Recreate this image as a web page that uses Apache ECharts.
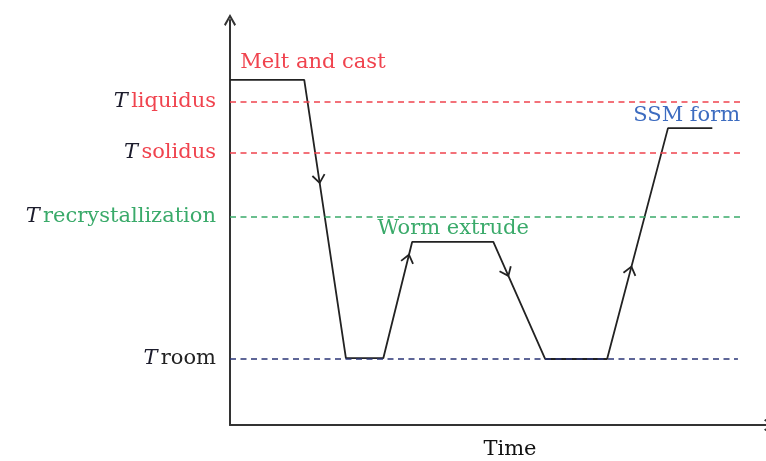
<!DOCTYPE html>
<html><head><meta charset="utf-8">
<script src="https://cdn.jsdelivr.net/npm/echarts@6/dist/echarts.min.js"></script>
<style>html,body{margin:0;padding:0;background:#fff}#c{width:766px;height:461px}</style>
</head><body><div id="c"></div>
<script>
// Process path (time, temperature) in arbitrary units
const pathX = [0, 13.9, 21.7, 28.7, 34.1, 49.3, 59, 70.6, 82, 90.3];
const pathY = [85.2, 85.2, 16.5, 16.5, 45.2, 45.2, 16.3, 16.3, 73.3, 73.3];
// Direction arrows: segment start index and fraction along segment
const arrowSeg = [1, 3, 5, 7];
const arrowFrac = [0.37, 0.89, 0.29, 0.40];
// Reference temperature levels
const levelNames = ['liquidus', 'solidus', 'recrystallization', 'room'];
const levelValues = [79.8, 67.2, 51.4, 16.3];
const levelEnds = [95.7, 95.7, 95.7, 95.1];
const levelColors = ['#f0434e', '#f0434e', '#3aaa6a', '#2a3576'];
const levelTextColors = ['#f0434e', '#f0434e', '#3aaa6a', '#222222'];
// Stage annotations
const stageNames = ['Melt and cast', 'Worm extrude', 'SSM form'];
const stageX = [1.9, 27.6, 75.5];
const stageY = [89.6, 48.6, 76.5];
const stageColors = ['#f0434e', '#3aaa6a', '#3d6cc0'];

const FONT = 'DejaVu Serif';
const FS = 21;
const chev = 'path://M0,8.8 L5,0 L10,8.8 L8.7,10 L5,3.3 L1.3,10 Z';

const pathData = pathX.map((x, i) => [x, pathY[i]]);
const arrowData = arrowSeg.map((s, i) => [pathX[s], pathY[s], pathX[s + 1], pathY[s + 1], arrowFrac[i]]);

const markData = levelNames.map((n, i) => [
  {coord: [0, levelValues[i]], lineStyle: {color: levelColors[i]},
   label: {formatter: '{t|T} {n|' + n + '}', rich: {
     t: {fontFamily: FONT, fontSize: FS, fontStyle: 'italic', color: '#1c1c2c'},
     n: {fontFamily: FONT, fontSize: FS, color: levelTextColors[i]}}}},
  {coord: [levelEnds[i], levelValues[i]]}
]);

const chart = echarts.init(document.getElementById('c'), null, {renderer: 'canvas'});
chart.setOption({
  animation: false,
  backgroundColor: '#ffffff',
  grid: {left: 230, right: -4, top: 20, bottom: 36, containLabel: false, outerBoundsMode: 'none'},
  xAxis: {
    type: 'value', min: 0, max: 101.1,
    name: 'Time', nameLocation: 'middle', nameGap: 14,
    nameTextStyle: {fontFamily: FONT, fontSize: FS, color: '#111', padding: [0, 0, 0, 20]},
    axisLine: {show: true, lineStyle: {color: '#333', width: 2}, symbol: ['none', chev], symbolSize: [18, 12]},
    axisTick: {show: false}, axisLabel: {show: false}, splitLine: {show: false}
  },
  yAxis: {
    type: 'value', min: 0, max: 100,
    axisLine: {show: true, lineStyle: {color: '#333', width: 2}, symbol: ['none', chev], symbolSize: [16, 12]},
    axisTick: {show: false}, axisLabel: {show: false}, splitLine: {show: false}
  },
  series: [
    {
      type: 'line', data: pathData, symbol: 'none',
      lineStyle: {color: '#222222', width: 1.8},
      markLine: {
        silent: true, symbol: 'none',
        lineStyle: {type: [6, 4.5], width: 1.6},
        label: {show: true, position: 'start', distance: 14},
        data: markData
      },
      z: 3
    },
    {
      type: 'custom', data: arrowData, z: 4,
      renderItem: function (params, api) {
        const p1 = api.coord([api.value(0), api.value(1)]);
        const p2 = api.coord([api.value(2), api.value(3)]);
        const t = api.value(4);
        const tip = [p1[0] + t * (p2[0] - p1[0]), p1[1] + t * (p2[1] - p1[1])];
        const dx = p2[0] - p1[0], dy = p2[1] - p1[1];
        const L = Math.hypot(dx, dy);
        const ux = dx / L, uy = dy / L;
        const a = 38 * Math.PI / 180, len = 10;
        const arm = s => {
          const c = Math.cos(s * a), sn = Math.sin(s * a);
          const rx = ux * c - uy * sn, ry = ux * sn + uy * c;
          return [tip[0] - len * rx, tip[1] - len * ry];
        };
        return {type: 'polyline', shape: {points: [arm(1), tip, arm(-1)]},
          style: {stroke: '#222222', lineWidth: 1.8, fill: null}};
      }
    },
    {
      type: 'scatter', symbolSize: 0, z: 5,
      itemStyle: {opacity: 1},
      data: stageNames.map((n, i) => ({name: n, value: [stageX[i], stageY[i]],
        label: {color: stageColors[i]}})),
      label: {show: true, position: 'right', distance: 0, formatter: '{b}',
        fontFamily: FONT, fontSize: FS, opacity: 1}
    }
  ]
});
</script></body></html>
